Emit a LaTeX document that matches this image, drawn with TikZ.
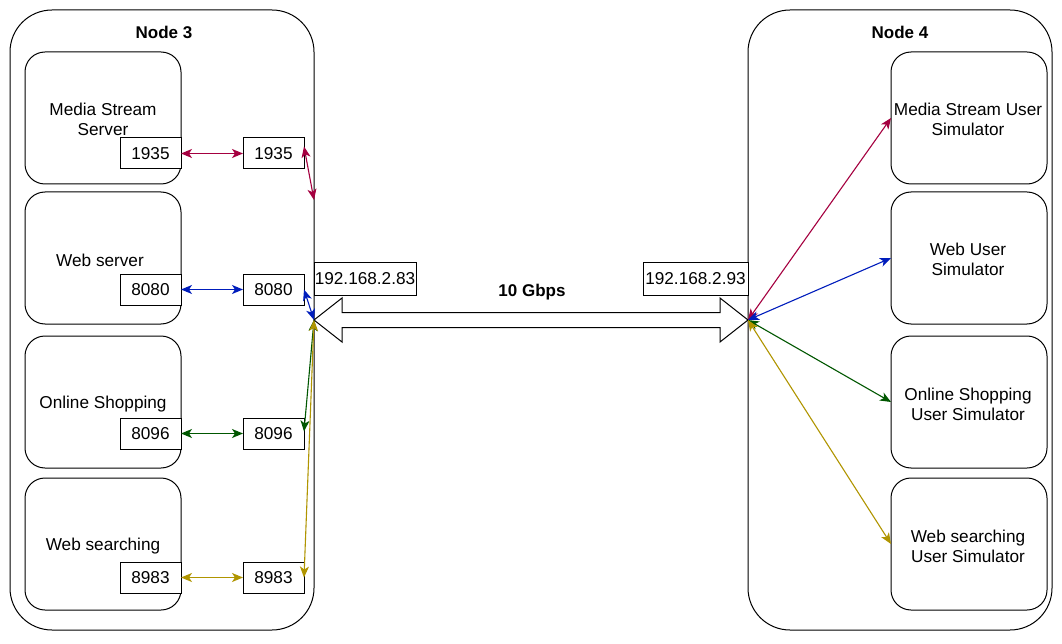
\documentclass[tikz,border=0pt]{standalone}
\usepackage{fontspec}
\setmainfont{Liberation Sans}
\usetikzlibrary{arrows.meta,calc}
\definecolor{ccrim}{HTML}{A50040}
\definecolor{cblue}{HTML}{001DBC}
\definecolor{cgreen}{HTML}{005700}
\definecolor{cyel}{HTML}{B09500}
\tikzset{
  outerbox/.style={draw, line width=1pt, rounded corners=42pt, minimum width=304pt, minimum height=620pt, inner sep=0pt, outer sep=0pt},
  appbox/.style={draw, line width=1pt, rounded corners=20pt, minimum width=156pt, minimum height=132pt, inner sep=0pt, outer sep=0pt, align=center, fill=white, text depth=0pt},
  portbox/.style={draw, line width=1pt, minimum width=61pt, minimum height=31pt, inner sep=0pt, outer sep=0pt, fill=white},
  ipbox/.style={draw, line width=1pt, minimum height=32pt, inner sep=0pt, outer sep=0pt, fill=white},
  title/.style={font=\fontsize{17}{20}\selectfont\bfseries},
  link/.style={line width=1.1pt, {Stealth[length=11pt,width=9pt,inset=3pt]}-{Stealth[length=11pt,width=9pt,inset=3pt]}},
  every node/.style={font=\fontsize{17.2}{20}\selectfont}
}
\begin{document}
\begin{tikzpicture}[x=1pt,y=-1pt]
\useasboundingbox (0,0) rectangle (1062,644);
\fill[white] (0,0) rectangle (1062,644);
% outer nodes
\node[outerbox] (n3) at (162,320) {};
\node[outerbox] (n4) at (900,320) {};
\node[title] (t3) at (164,32) {Node 3};
\node[title] (t4) at (900,32) {Node 4};
% left app boxes
\node[appbox] (a1) at (103,118) {};
\node[appbox] (a2) at (103,258) {};
\node[appbox] (a3) at (103,402) {};
\node[appbox] (a4) at (103,544) {};
\node[align=center] (a1t) at (103,119.5) {Media Stream\\Server};
\node (a2t) at (100,260) {Web server};
\node (a3t) at (103,404.5) {Online Shopping};
\node (a4t) at (103,546.5) {Web searching};
% right app boxes
\node[appbox] (r1) at (969,118) {};
\node[appbox] (r2) at (969,258) {};
\node[appbox] (r3) at (969,402) {};
\node[appbox] (r4) at (969,544) {};
\node[align=center] (r1t) at (968,119.5) {Media Stream User\\Simulator};
\node[align=center] (r2t) at (968,259.5) {Web User\\Simulator};
\node[align=center] (r3t) at (968,404.5) {Online Shopping\\User Simulator};
\node[align=center] (r4t) at (968,546.5) {Web searching\\User Simulator};
% ports
\node[portbox] (p1) at (150.5,153.5) {1935};
\node[portbox] (p2) at (150.5,289.5) {8080};
\node[portbox] (p3) at (150.5,433.5) {8096};
\node[portbox] (p4) at (150.5,577.5) {8983};
\node[portbox] (m1) at (273.5,153.5) {1935};
\node[portbox] (m2) at (273.5,289.5) {8080};
\node[portbox] (m3) at (273.5,433.5) {8096};
\node[portbox] (m4) at (273.5,577.5) {8983};
% IP boxes
\node[ipbox, minimum width=102pt] (ipl) at (365,279) {192.168.2.83};
\node[ipbox, minimum width=105pt] (ipr) at (695.5,279) {192.168.2.93};
\node[title] (bw) at (532,292) {10 Gbps};
% link arrow
\coordinate (tipL) at (314,320);
\coordinate (tipR) at (748,320);
\coordinate (cr) at (314,200);
\draw[line width=1pt, fill=white, line join=miter]
  (tipL) -- (342,298) -- (342,312.5) -- (720,312.5) -- (720,298) -- (tipR)
  -- (720,342) -- (720,327.5) -- (342,327.5) -- (342,342) -- cycle;
% left links
\draw[link, ccrim] (p1.east) -- (m1.west);
\draw[link, cblue] (p2.east) -- (m2.west);
\draw[link, cgreen] (p3.east) -- (m3.west);
\draw[link, cyel] (p4.east) -- (m4.west);
\draw[link, ccrim] ([yshift=7pt]m1.east) -- (cr);
\draw[link, cblue] (m2.east) -- (tipL);
\draw[link, cgreen] (tipL) -- ([yshift=2pt]m3.east);
\draw[link, cyel] (tipL) -- (m4.east);
% right links
\draw[link, ccrim] (tipR) -- (r1.west);
\draw[link, cblue] (tipR) -- (r2.west);
\draw[link, cgreen] (tipR) -- (r3.west);
\draw[link, cyel] (tipR) -- (r4.west);
\end{tikzpicture}
\end{document}
